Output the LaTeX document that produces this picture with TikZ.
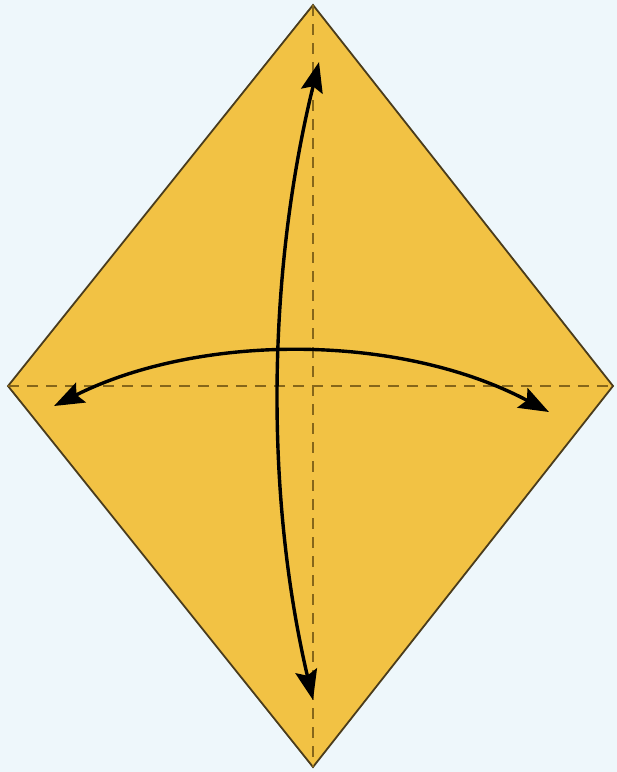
\documentclass[tikz,border=0pt]{standalone}
\usetikzlibrary{arrows.meta}
\definecolor{bgblue}{HTML}{EEF7FB}
\definecolor{paper}{HTML}{F2C244}
\definecolor{edge}{HTML}{4A3C1C}
\definecolor{crease}{HTML}{86661A}
\tikzset{
  paperedge/.style={fill=paper, draw=edge, line width=1.8pt, line join=miter},
  creaseline/.style={draw=crease, line width=2.4pt, dash pattern=on 11pt off 8pt},
  foldarrow/.style={draw=black, line width=3.4pt,
    {Stealth[length=30pt,width=22pt,inset=5pt]}-{Stealth[length=30pt,width=22pt,inset=5pt]}}
}
\begin{document}
\begin{tikzpicture}[x=1pt,y=-1pt]
\useasboundingbox[fill=bgblue] (0,0) rectangle (617,772);
\coordinate (T) at (313,5);
\coordinate (L) at (8,386);
\coordinate (R) at (613,386);
\coordinate (B) at (313,767);
\coordinate (Va) at (313,700);
\coordinate (Vb) at (319,62);
\coordinate (Ha) at (54,406);
\coordinate (Hb) at (549,412);
\path[paperedge] (T) -- (R) -- (B) -- (L) -- cycle;
\draw[creaseline] (T) -- (B);
\draw[creaseline] (L) -- (R);
\draw[foldarrow] (Va) .. controls (264,490) and (268,270) .. (Vb);
\draw[foldarrow] (Ha) .. controls (200,333) and (400,333) .. (Hb);
\end{tikzpicture}
\end{document}
